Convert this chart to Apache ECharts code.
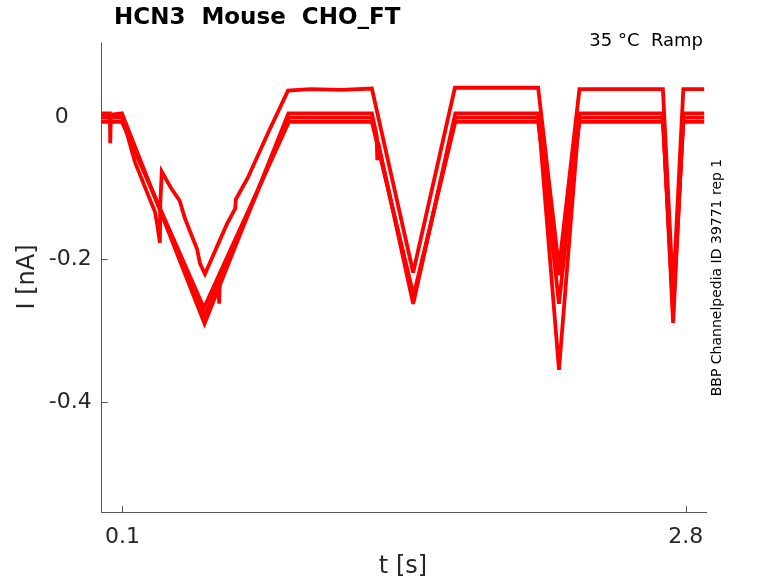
<!DOCTYPE html>
<html>
<head>
<meta charset="utf-8">
<script src="https://cdn.jsdelivr.net/npm/echarts@6/dist/echarts.min.js"></script>
<style>
html,body{margin:0;padding:0;background:#fff;}
#chart{width:778px;height:583px;}
</style>
</head>
<body>
<div id="chart"></div>
<script>
// Tick labels
const xTickValues = [0.1, 2.8];
const yTickValues = [0, -0.2, -0.4];

// Traces: [t (s), I (nA)]
const traceU = [
  [0.000, 0.003], [0.097, 0.003], [0.160, -0.063], [0.231, -0.115], [0.255, -0.132],
  [0.266, -0.150], [0.279, -0.176], [0.281, -0.120], [0.288, -0.076], [0.330, -0.098],
  [0.374, -0.117], [0.398, -0.141], [0.430, -0.165], [0.457, -0.185], [0.471, -0.205],
  [0.495, -0.220], [0.600, -0.150], [0.640, -0.128], [0.643, -0.115], [0.700, -0.085],
  [0.800, -0.020], [0.893, 0.038], [1.000, 0.040], [1.150, 0.039], [1.295, 0.041],
  [1.493, -0.218], [1.693, 0.042], [2.092, 0.042], [2.192, -0.212], [2.290, 0.040],
  [2.690, 0.040], [2.739, -0.247], [2.788, 0.040], [2.888, 0.040]
];
const traceL1 = [
  [0.000, 0.006], [0.039, 0.006], [0.041, -0.036], [0.044, 0.004], [0.097, 0.006],
  [0.493, -0.290], [0.895, 0.006], [1.295, 0.006], [1.318, -0.025], [1.321, -0.060],
  [1.325, -0.035], [1.493, -0.262], [1.695, 0.006], [2.092, 0.006], [2.192, -0.355],
  [2.290, 0.006], [2.690, 0.006], [2.739, -0.289], [2.788, 0.006], [2.888, 0.006]
];
const traceL2 = [
  [0.000, 0.000], [0.097, 0.000], [0.493, -0.280], [0.560, -0.232], [0.563, -0.262],
  [0.566, -0.230], [0.897, 0.000], [1.295, 0.000], [1.495, -0.256], [1.695, 0.000],
  [2.092, 0.000], [2.192, -0.262], [2.290, 0.000], [2.690, 0.000], [2.739, -0.275],
  [2.788, 0.000], [2.888, 0.000]
];
const traceL3 = [
  [0.000, -0.006], [0.097, -0.006], [0.490, -0.268], [0.897, -0.006], [1.295, -0.006],
  [1.495, -0.250], [1.695, -0.006], [2.092, -0.006], [2.192, -0.222], [2.290, -0.006],
  [2.690, -0.006], [2.739, -0.262], [2.788, -0.006], [2.888, -0.006]
];

const traces = [traceU, traceL1, traceL2, traceL3];
const widths = [3.8, 3.8, 3.8, 3.8];

const FONT = "'DejaVu Sans', sans-serif";
const chart = echarts.init(document.getElementById('chart'), null, {renderer: 'canvas'});

const option = {
  animation: false,
  backgroundColor: '#ffffff',
  grid: {left: 101.7, right: 71.3, top: 43, bottom: 71, containLabel: false},
  xAxis: {
    type: 'value', min: 0, max: 2.9,
    axisLine: {show: true, onZero: false, lineStyle: {color: '#555', width: 1}},
    axisTick: {show: true, inside: true, length: 6, customValues: xTickValues, lineStyle: {color: '#555'}},
    axisLabel: {customValues: xTickValues, margin: 14, color: '#262626', fontSize: 22, fontFamily: FONT,
      formatter: v => String(v)},
    splitLine: {show: false}
  },
  yAxis: {
    type: 'value', min: -0.555, max: 0.105,
    axisLine: {show: true, onZero: false, lineStyle: {color: '#555', width: 1}},
    axisTick: {show: true, inside: true, length: 6, customValues: yTickValues, lineStyle: {color: '#555'}},
    axisLabel: {customValues: yTickValues, margin: 10, color: '#262626', fontSize: 22, fontFamily: FONT,
      formatter: v => (v === 0 ? '{z|0}' : String(v)),
      rich: {z: {fontSize: 22, fontFamily: FONT, color: '#262626', padding: [0, 23, 0, 0]}}
    },
    splitLine: {show: false}
  },
  series: traces.map((d, i) => ({
    type: 'line', data: d, showSymbol: false, symbol: 'none', z: 2 + i,
    lineStyle: {color: '#ff0000', width: widths[i], join: 'miter', miterLimit: 4}
  })),
  graphic: [
    {type: 'text', x: 114, y: 18, style: {text: 'HCN3  Mouse  CHO_FT', fill: '#000', font: "bold 23px " + FONT, textAlign: 'left', textVerticalAlign: 'middle'}},
    {type: 'text', x: 703, y: 41, style: {text: '35 °C  Ramp', fill: '#000', font: "18px " + FONT, textAlign: 'right', textVerticalAlign: 'middle'}},
    {type: 'text', x: 717, y: 277.5, rotation: Math.PI / 2, style: {text: 'BBP Channelpedia ID 39771 rep 1', fill: '#000', font: "14px " + FONT, textAlign: 'center', textVerticalAlign: 'middle'}},
    {type: 'text', x: 28, y: 277, rotation: Math.PI / 2, style: {text: 'I [nA]', fill: '#262626', font: "24px " + FONT, textAlign: 'center', textVerticalAlign: 'middle'}},
    {type: 'text', x: 403, y: 567, style: {text: 't [s]', fill: '#262626', font: "24px " + FONT, textAlign: 'center', textVerticalAlign: 'middle'}}
  ]
};
chart.setOption(option);
</script>
</body>
</html>
